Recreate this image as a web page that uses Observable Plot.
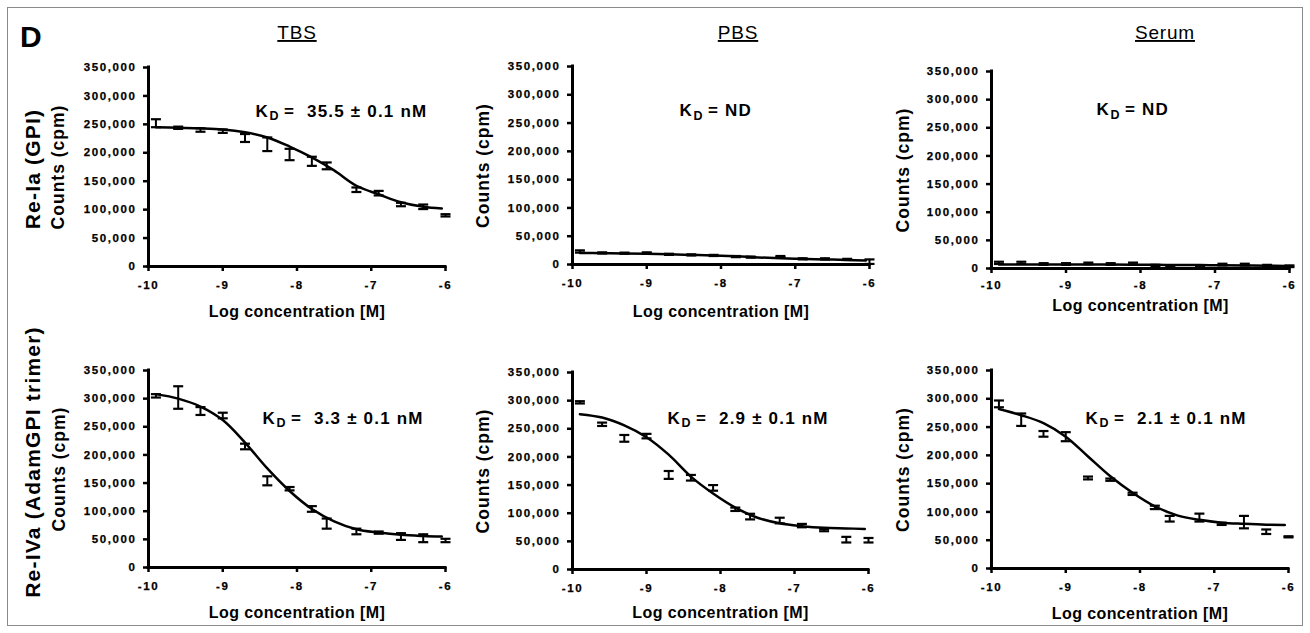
<!DOCTYPE html>
<html>
<head>
<meta charset="utf-8">
<script src="https://cdn.jsdelivr.net/npm/d3@7"></script>
<script src="https://cdn.jsdelivr.net/npm/@observablehq/plot@0.6"></script>
<style>
  html, body { margin: 0; padding: 0; background: #fff; }
  #fig { position: relative; width: 1310px; height: 633px; overflow: hidden; font-family: "Liberation Sans", Arial, sans-serif; }
  #frame { position: absolute; left: 7px; top: 7px; width: 1296px; height: 619px; border: 1px solid #8a8a8a; box-sizing: border-box; }
  .panel { position: absolute; }
  .panel svg { overflow: visible; }
  #overlay { position: absolute; left: 0; top: 0; pointer-events: none; }
</style>
</head>
<body>
<div id="fig"><div id="frame"></div></div>
<script>
// ---------------- data ----------------
const columns = ["TBS", "PBS", "Serum"];
const rows = ["Re-Ia (GPI)", "Re-IVa (AdamGPI trimer)"];
const panelLetter = "D";
const xTicks = [-10, -9, -8, -7, -6];
const yTicks = [0, 50000, 100000, 150000, 200000, 250000, 300000, 350000];
const xLabel = "Log concentration [M]";
const yLabel = "Counts (cpm)";
const kdValues = ["35.5 ± 0.1 nM", "ND", "ND", "3.3 ± 0.1 nM", "2.9 ± 0.1 nM", "2.1 ± 0.1 nM"];

// measured concentrations (log M)
const logConc = [-9.9, -9.6, -9.3, -9.0, -8.7, -8.4, -8.1, -7.8, -7.6, -7.2, -6.9, -6.6, -6.3, -6.0];
// fitted-curve sample points (log M)
const fitX = [-9.9, -9.6, -9.3, -9.0, -8.7, -8.4, -8.1, -7.8, -7.5, -7.2, -6.9, -6.6, -6.3, -6.05];

// means and error (thousand cpm)
const gpiTBS      = [252, 244, 240, 238, 226, 215, 197, 185, 177, 135, 129, 109, 105, 90];
const gpiTBSErr   = [7, 2, 3, 3, 7, 12, 10, 8, 6, 4, 4, 3, 4, 2];
const gpiTBSFit   = [245, 244, 243, 241, 236, 227, 211, 192, 169, 142, 127, 113, 105, 102];

const gpiPBS      = [23, 20.5, 20, 20.5, 18, 17, 16, 14, 13, 14, 10, 10, 9, 5];
const gpiPBSErr   = [2, 1, 1, 1, 1, 1, 1, 1, 1, 1, 1, 1, 1, 4];
const gpiPBSFit   = [20.5, 20, 19.5, 18.8, 18, 17, 16, 14.5, 12.5, 11, 10, 9, 8, 7];

const gpiSerum    = [10, 10, 8, 8, 9, 8, 9, 5, 4, 4, 7, 7, 5, 4];
const gpiSerumErr = [2, 2, 1.5, 1.5, 1.5, 1.5, 1.5, 1.5, 1.5, 1.5, 1.5, 1.5, 1.5, 1.5];
const gpiSerumFit = [7, 7, 7, 7, 7, 7, 6.8, 6.5, 6.3, 6, 5.8, 5.5, 5, 4.5];

const adamTBS      = [305, 302, 278, 270, 215, 154, 140, 104, 78, 64, 62, 55, 52, 48];
const adamTBSErr   = [3, 20, 7, 5, 5, 8, 3, 5, 9, 5, 2, 6, 7, 3];
const adamTBSFit   = [308, 300, 286, 262, 222, 176, 136, 104, 82, 68, 62, 58, 56, 55];

const adamPBS      = [297, 258, 233, 237, 168, 163, 145, 107, 94, 87, 78, 70, 53, 52];
const adamPBSErr   = [2, 3, 6, 4, 7, 5, 5, 3, 5, 5, 3, 2, 5, 4];
const adamPBSFit   = [276, 270, 256, 235, 204, 165, 135, 110, 92, 82, 77, 74, 73, 72];

const adamSerum    = [291, 263, 238, 233, 160, 157, 132, 108, 88, 90, 79, 82, 65, 56];
const adamSerumErr = [6, 11, 5, 8, 2.5, 2, 2, 3, 5, 7, 2, 11, 4, 1];
const adamSerumFit = [282, 271, 257, 233, 198, 163, 134, 110, 94, 86, 81, 79, 77.5, 77];

// ---------------- layout ----------------
const FONT = '"Liberation Sans", Arial, sans-serif';
const ML = 100, MR = 14, MT = 12, MB = 60;
const TICK_FS = 11.5, KD_FS = 17, YLAB_FS = 17.5, XLAB_FS = 16;
// letter spacing by font size (applied after rendering)
const spacing = {[TICK_FS]: "1.6px", [KD_FS]: "1.2px", [YLAB_FS]: "1px", [XLAB_FS]: "0.4px"};
const panels = [
  {mean: gpiTBS,    err: gpiTBSErr,    fit: gpiTBSFit,    kd: kdValues[0], x0: 148, yT: 67,  pw: 297, ph: 199, kdx: 107, kdy: 44,   xlab: 45, ylab: -90, xtp: 9},
  {mean: gpiPBS,    err: gpiPBSErr,    fit: gpiPBSFit,    kd: kdValues[1], x0: 572, yT: 66,  pw: 297, ph: 198, kdx: 107, kdy: 44.5, xlab: 47, ylab: -89, xtp: 9},
  {mean: gpiSerum,  err: gpiSerumErr,  fit: gpiSerumFit,  kd: kdValues[2], x0: 991, yT: 71,  pw: 298, ph: 197, kdx: 105, kdy: 38.5, xlab: 37, ylab: -88, xtp: 7},
  {mean: adamTBS,   err: adamTBSErr,   fit: adamTBSFit,   kd: kdValues[3], x0: 148, yT: 370, pw: 297, ph: 197, kdx: 114, kdy: 48,   xlab: 45, ylab: -89, xtp: 9},
  {mean: adamPBS,   err: adamPBSErr,   fit: adamPBSFit,   kd: kdValues[4], x0: 572, yT: 372, pw: 296, ph: 197, kdx: 95,  kdy: 46,   xlab: 43, ylab: -89, xtp: 9},
  {mean: adamSerum, err: adamSerumErr, fit: adamSerumFit, kd: kdValues[5], x0: 991, yT: 370, pw: 297, ph: 198, kdx: 94,  kdy: 48,   xlab: 45, ylab: -88.5, xtp: 9}
];

// horizontal cap symbol for error bars (half-width = r)
const capSymbol = {
  draw(context, size) {
    const w = Math.sqrt(size / Math.PI);
    context.moveTo(-w, 0);
    context.lineTo(w, 0);
  }
};

const fmt = d3.format(",");
const fig = document.getElementById("fig");

panels.forEach((cfg) => {
  const pts = logConc.map((x, i) => ({
    x, y: cfg.mean[i] * 1000,
    lo: (cfg.mean[i] - cfg.err[i]) * 1000,
    hi: (cfg.mean[i] + cfg.err[i]) * 1000
  }));
  const fit = fitX.map((x, i) => ({x, y: cfg.fit[i] * 1000}));
  const kdText = cfg.kd === "ND" ? "= ND" : "=\u00a0 " + cfg.kd;
  const bold = {fontWeight: "bold", fill: "#000"};
  const heavy = {fontWeight: "bold", fill: "#000", stroke: "#000", strokeWidth: 0.25};

  const chart = Plot.plot({
    width: ML + cfg.pw + MR,
    height: MT + cfg.ph + MB,
    marginLeft: ML, marginRight: MR, marginTop: MT, marginBottom: MB,
    x: {domain: [-10, -6]},
    y: {domain: [0, 350000]},
    style: {fontFamily: FONT, color: "#000", background: "transparent", overflow: "visible"},
    marks: [
      // tick marks (labels drawn with text marks)
      Plot.axisX({ticks: xTicks, tickSize: 5, strokeWidth: 2.5, tickFormat: () => "", label: null}),
      Plot.axisY({ticks: yTicks, tickSize: 5, strokeWidth: 2.5, tickFormat: () => "", label: null}),
      Plot.text(xTicks, {x: d => d, frameAnchor: "bottom", text: d => String(d), lineAnchor: "top",
                         textAnchor: "middle", dy: 5 + cfg.xtp, fontSize: TICK_FS, ...heavy}),
      Plot.text(yTicks, {y: d => d, frameAnchor: "left", text: d => fmt(d), textAnchor: "end",
                         lineAnchor: "middle", dx: -12, fontSize: TICK_FS, ...heavy}),
      Plot.ruleY([0], {stroke: "#000", strokeWidth: 3, strokeLinecap: "square"}),
      Plot.ruleX([-10], {stroke: "#000", strokeWidth: 3, strokeLinecap: "square"}),
      Plot.line(fit, {x: "x", y: "y", curve: "catmull-rom", stroke: "#000", strokeWidth: 2.5}),
      Plot.ruleX(pts, {x: "x", y1: "lo", y2: "hi", stroke: "#000", strokeWidth: 2}),
      Plot.dot(pts, {x: "x", y: "lo", symbol: capSymbol, r: 5, stroke: "#000", strokeWidth: 2.2, fill: "none"}),
      Plot.dot(pts, {x: "x", y: "hi", symbol: capSymbol, r: 5, stroke: "#000", strokeWidth: 2.2, fill: "none"}),
      Plot.text(["K"], {text: d => d, frameAnchor: "top-left", dx: cfg.kdx, dy: cfg.kdy, textAnchor: "start",
                        lineAnchor: "middle", fontSize: 17.01, ...bold}),
      Plot.text(["D"], {text: d => d, frameAnchor: "top-left", dx: cfg.kdx + 14, dy: cfg.kdy + 4.5, textAnchor: "start",
                        lineAnchor: "middle", fontSize: 12.5, ...bold}),
      Plot.text([kdText], {text: d => d, frameAnchor: "top-left", dx: cfg.kdx + 28.5, dy: cfg.kdy, textAnchor: "start",
                        lineAnchor: "middle", fontSize: KD_FS, ...bold}),
      Plot.text([yLabel], {text: d => d, frameAnchor: "left", dx: cfg.ylab, rotate: -90,
                        textAnchor: "middle", lineAnchor: "middle", fontSize: YLAB_FS, ...bold}),
      Plot.text([xLabel], {text: d => d, frameAnchor: "bottom", dy: cfg.xlab,
                        textAnchor: "middle", lineAnchor: "middle", fontSize: XLAB_FS, ...bold})
    ]
  });
  // apply letter spacing to text groups according to their font size
  d3.select(chart).selectAll("g[font-size]").each(function() {
    const ls = spacing[this.getAttribute("font-size")];
    if (ls) d3.select(this).style("letter-spacing", ls);
  });
  const div = document.createElement("div");
  div.className = "panel";
  div.style.left = (cfg.x0 - ML) + "px";
  div.style.top = (cfg.yT - MT) + "px";
  div.appendChild(chart);
  fig.appendChild(div);
});

// ---------------- figure-level labels ----------------
const svg = d3.select(fig).append("svg").attr("id", "overlay")
  .attr("width", 1310).attr("height", 633)
  .style("font-family", FONT);

svg.append("text").attr("x", 20).attr("y", 47)
  .attr("font-size", 30).attr("font-weight", "bold").text(panelLetter);

const colCenters = [297, 738, 1165];
columns.forEach((c, i) => {
  svg.append("text").attr("x", colCenters[i]).attr("y", 39)
    .attr("text-anchor", "middle").attr("font-size", 19)
    .attr("text-decoration", "underline").style("letter-spacing", "0.8px").text(c);
});

const rowCenters = [169, 462];
rows.forEach((r, i) => {
  svg.append("text").attr("transform", `translate(40,${rowCenters[i]}) rotate(-90)`)
    .attr("text-anchor", "middle").attr("font-size", 21).attr("font-weight", "bold")
    .style("letter-spacing", "1.2px").text(r);
});
</script>
</body>
</html>
